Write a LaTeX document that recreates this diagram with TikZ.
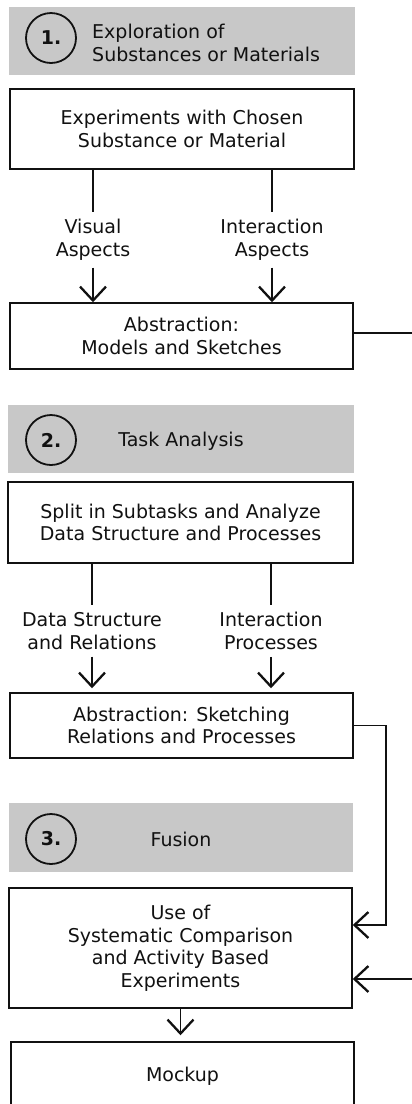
\documentclass[tikz,border=0pt]{standalone}
\usepackage{fontspec}
\setmainfont{DejaVu Sans}
\usetikzlibrary{arrows.meta}
\definecolor{hdrgray}{RGB}{200,200,200}
\definecolor{ink}{RGB}{17,17,17}
\begin{document}
\begin{tikzpicture}[x=1pt,y=-1pt,
  every node/.style={font=\fontsize{19}{22.5}\selectfont, text=ink},
  box/.style={draw=ink, line width=1.5pt, rectangle, inner sep=0pt, align=center},
  hdr/.style={fill=hdrgray, rectangle, inner sep=0pt},
  num/.style={draw=ink, circle, line width=1.8pt, minimum size=50pt, inner sep=0pt, font=\fontsize{19}{22}\selectfont\bfseries},
  lbl/.style={align=center, inner xsep=0pt, inner ysep=7pt},
  conn/.style={draw=ink, line width=1.5pt},
  arr/.style={conn, -{Straight Barb[length=14pt,width=26pt,line width=2.3pt]}},
]
\fill[white] (0,0) rectangle (412,1104);
\useasboundingbox (0,0) rectangle (412,1104);
\clip (0,0) rectangle (412,1104);

% ---------- Section 1 ----------
\node[hdr, minimum width=346pt, minimum height=68pt] (h1) at (182,41) {};
\node[num] (n1) at (51,38) {1.};
\node[align=left, anchor=west, inner sep=0pt] (t1) at (92,43) {Exploration of\\Substances or Materials};

\node[box, minimum width=344pt, minimum height=80pt] (A) at (182,129) {Experiments with Chosen\\Substance or Material};
\node[lbl] (vis) at (93,240) {Visual\\Aspects};
\node[lbl] (ia) at (272,240) {Interaction\\Aspects};
\node[box, minimum width=343pt, minimum height=66pt] (B) at (181.5,336) {Abstraction:\\Models and Sketches};

\draw[conn] (A.south -| vis.north) -- (vis.north);
\draw[conn] (A.south -| ia.north) -- (ia.north);
\draw[arr] (vis.south) -- (vis.south |- B.north);
\draw[arr] (ia.south) -- (ia.south |- B.north);

% ---------- Section 2 ----------
\node[hdr, minimum width=346pt, minimum height=68pt] (h2) at (181,439) {};
\node[num] (n2) at (51,440) {2.};
\node[inner sep=0pt] (t2) at (181,441) {Task Analysis};

\node[box, minimum width=345pt, minimum height=81pt] (C) at (180.5,522.5) {Split in Subtasks and Analyze\\Data Structure and Processes};
\node[lbl] (ds) at (92,631) {Data Structure\\and Relations};
\node[lbl] (ip) at (271,631) {Interaction\\Processes};
\node[box, minimum width=343pt, minimum height=65pt] (D) at (181.5,725.5) {Abstraction: Sketching\\Relations and Processes};

\draw[conn] (C.south -| ds.north) -- (ds.north);
\draw[conn] (C.south -| ip.north) -- (ip.north);
\draw[arr] (ds.south) -- ([yshift=4pt]ds.south |- D.north);
\draw[arr] (ip.south) -- ([yshift=4pt]ip.south |- D.north);

% ---------- Section 3 ----------
\node[hdr, minimum width=344pt, minimum height=69pt] (h3) at (181,837.5) {};
\node[num] (n3) at (51,839) {3.};
\node[inner sep=0pt] (t3) at (181,839) {Fusion};

\node[box, minimum width=343pt, minimum height=120pt] (E) at (180.5,948) {Use of\\Systematic Comparison\\and Activity Based\\Experiments};
\node[box, minimum width=343pt, minimum height=68pt] (F) at (182.5,1076) {\raisebox{3pt}{Mockup}};

\draw[arr] (E.south) -- ([yshift=6pt]E.south |- F.north);

% ---------- feedback connectors ----------
\coordinate (offR) at (426,0);
\coordinate (busD) at (386,0);
\draw[arr] (D.east) -- (D.east -| busD) -- ([yshift=23pt]E.east -| busD) -- ([yshift=23pt]E.east);
\draw[arr] ([yshift=3pt]B.east) -- ([yshift=3pt]B.east -| offR) -- ([yshift=-31pt]E.east -| offR) -- ([yshift=-31pt]E.east);
\end{tikzpicture}
\end{document}
